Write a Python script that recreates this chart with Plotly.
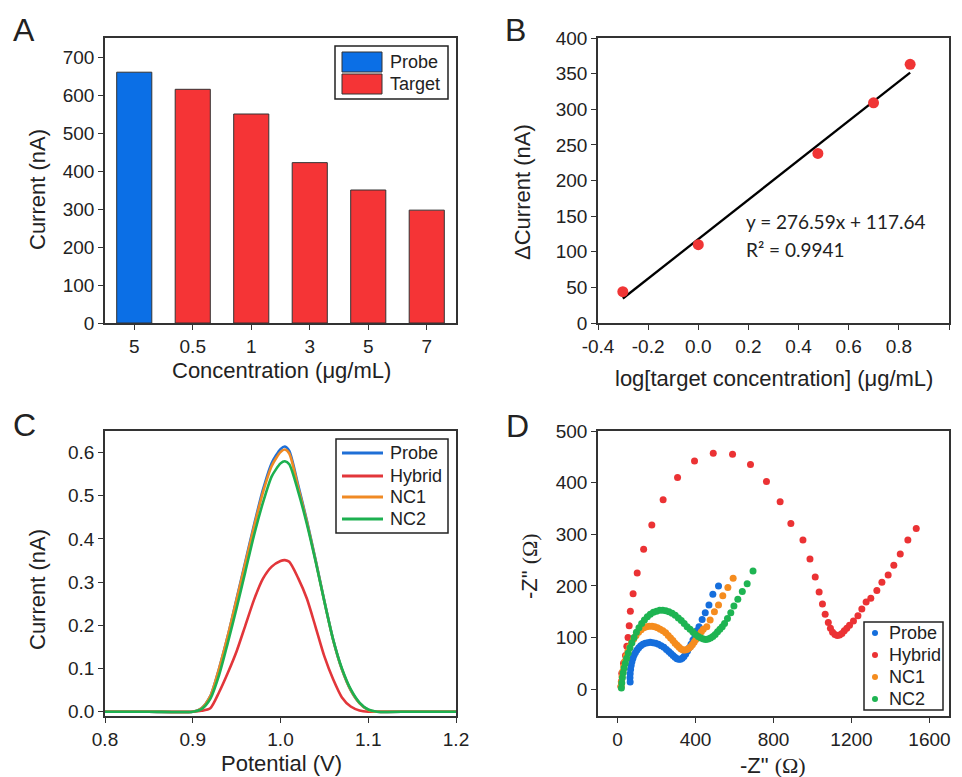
import plotly.graph_objects as go

# ---------------- data ----------------
# Panel A
bar_labels = ["5", "0.5", "1", "3", "5", "7"]
bar_groups = ["Probe", "Target", "Target", "Target", "Target", "Target"]
bar_current = [660, 615, 550, 422, 350, 297]

# Panel B
log_conc = [-0.301, 0.0, 0.477, 0.699, 0.845]
delta_current = [44, 110, 238, 309, 363]
fit_x = [-0.301, 0.845]
fit_y = [34.4, 351.4]
fit_eq = "y = 276.59x + 117.64"
fit_r2 = "R² = 0.9941"

# Panel C
potential = [0.80, 0.85, 0.90, 0.91, 0.92, 0.93, 0.94, 0.95, 0.96, 0.97, 0.98, 0.99,
             1.00, 1.005, 1.01, 1.02, 1.03, 1.04, 1.05, 1.06, 1.07, 1.08, 1.09, 1.10,
             1.11, 1.15, 1.20]
dpv_probe = [0, 0, 0, 0.008, 0.036, 0.10, 0.176, 0.262, 0.348, 0.434, 0.514, 0.576,
             0.608, 0.614, 0.604, 0.526, 0.443, 0.352, 0.256, 0.167, 0.098, 0.05, 0.02, 0.004,
             0, 0, 0]
dpv_hybrid = [0, 0, 0, 0.002, 0.008, 0.045, 0.09, 0.14, 0.2, 0.26, 0.308, 0.336,
              0.349, 0.351, 0.347, 0.31, 0.262, 0.196, 0.128, 0.075, 0.033, 0.012, 0.003, 0,
              0, 0, 0]
dpv_nc1 = [0, 0, 0, 0.008, 0.036, 0.10, 0.176, 0.26, 0.345, 0.43, 0.508, 0.569,
           0.601, 0.607, 0.598, 0.521, 0.44, 0.35, 0.255, 0.166, 0.098, 0.05, 0.02, 0.004,
           0, 0, 0]
dpv_nc2 = [0, 0, 0, 0.006, 0.03, 0.085, 0.16, 0.24, 0.325, 0.41, 0.484, 0.545,
           0.575, 0.58, 0.573, 0.511, 0.435, 0.348, 0.255, 0.167, 0.1, 0.052, 0.021, 0.005,
           0, 0, 0]

# Panel D (Nyquist)
probe_zr = [65, 64, 65, 67, 70, 74, 79, 85, 92, 100, 109, 119, 130, 142, 155, 168, 182, 196, 210, 224,
            238, 251, 263, 274, 285, 295, 305, 314, 323, 332, 341, 350, 359, 368, 377, 387, 397, 407,
            418, 434, 450, 469, 489, 518]
probe_zi = [14, 22, 30, 38, 46, 53, 60, 66, 71, 76, 80, 84, 87, 89, 90, 91, 90, 89, 87, 84,
            81, 77, 73, 69, 65, 62, 59, 58, 58, 60, 63, 68, 74, 80, 87, 95, 104, 113,
            121, 135, 148, 163, 184, 200]
hybrid_zr = [18, 20, 22, 31, 41, 48, 54, 60, 66, 80, 101, 134, 176, 234, 308, 395, 491, 590, 682, 764,
             834, 889, 951, 987, 1014, 1034, 1051, 1065, 1081, 1092, 1103, 1115, 1127, 1139, 1151,
             1163, 1176, 1190, 1210, 1233, 1253, 1275, 1299, 1330, 1356, 1388, 1417, 1450, 1489, 1532]
hybrid_zi = [5, 15, 31, 50, 65, 83, 100, 123, 151, 185, 225, 271, 318, 367, 410, 442, 457, 455, 435, 402,
             363, 321, 289, 252, 217, 188, 165, 145, 129, 118, 110, 106, 104, 105, 108,
             113, 118, 124, 132, 142, 155, 169, 176, 191, 207, 221, 240, 262, 289, 311]
nc1_zr = [18, 20, 23, 27, 32, 38, 45, 53, 62, 72, 83, 95, 108, 121, 135, 149, 163, 177, 191, 205,
          219, 233, 247, 260, 272, 284, 295, 306, 316, 326, 336, 346, 356, 366, 375, 384, 393, 402,
          411, 420, 430, 440, 458, 475, 497, 518, 540, 566, 593]
nc1_zi = [5, 14, 24, 34, 44, 54, 64, 73, 82, 90, 97, 104, 110, 115, 119, 121, 122, 122, 121, 119,
          116, 113, 109, 104, 99, 94, 89, 85, 81, 78, 76, 76, 77, 79, 82, 86, 91, 96,
          101, 106, 111, 116, 121, 134, 150, 163, 181, 197, 215]
nc2_zr = [20, 22, 25, 29, 34, 40, 47, 55, 64, 74, 85, 97, 110, 124, 138, 153, 168, 184, 200, 216,
          232, 248, 264, 280, 296, 312, 327, 342, 357, 372, 386, 400, 414, 428, 441, 453, 465, 477,
          489, 501, 513, 525, 537, 549, 564, 581, 597, 617, 640, 665, 695]
nc2_zi = [2, 12, 22, 32, 41, 50, 60, 70, 80, 90, 100, 110, 119, 127, 134, 140, 145, 149, 151, 153,
          153, 152, 150, 147, 143, 138, 133, 127, 121, 116, 111, 106, 102, 99, 97, 96, 97, 99,
          102, 106, 111, 116, 121, 127, 137, 148, 161, 174, 189, 204, 229]

series_names = ["Probe", "Hybrid", "NC1", "NC2"]

# ---------------- styling ----------------
OFF = 8                      # page body margin (top/left)
W, H = 962 - OFF, 777 - OFF  # figure fills the window up to its right/bottom edge
FONT = "Liberation Sans, Arial, sans-serif"
AX_COL = "#333333"
BAR_COLORS = {"Probe": "#0B6FE6", "Target": "#F53436"}
C_COLORS = {"Probe": "#1F6FD6", "Hybrid": "#E2363A", "NC1": "#F08A24", "NC2": "#1DB050"}
D_COLORS = {"Probe": "#156EDC", "Hybrid": "#EB3234", "NC1": "#F58C1E", "NC2": "#1EB452"}


def px(x):
    return (x - OFF) / W


def py(y):
    return 1 - (y - OFF) / H


def axis(domain, rng, **kw):
    d = dict(domain=domain, range=rng, showline=True, mirror=True, linecolor=AX_COL,
             linewidth=1.5, ticks="outside", ticklen=5, tickwidth=1.2, tickcolor=AX_COL,
             showgrid=False, zeroline=False, automargin=False,
             tickfont=dict(size=19, color="#222", family=FONT))
    d.update(kw)
    return d


fig = go.Figure()

# Panel A
fig.add_trace(go.Bar(
    x=list(range(len(bar_current))), y=bar_current, width=0.6,
    marker=dict(color=[BAR_COLORS[g] for g in bar_groups], line=dict(color="#333", width=1)),
    xaxis="x", yaxis="y", showlegend=False))

# Panel B
fig.add_trace(go.Scatter(x=fit_x, y=fit_y, mode="lines", line=dict(color="black", width=2.3),
                         xaxis="x2", yaxis="y2", showlegend=False))
fig.add_trace(go.Scatter(x=log_conc, y=delta_current, mode="markers",
                         marker=dict(color="#F03535", size=11),
                         xaxis="x2", yaxis="y2", showlegend=False))

# Panel C
for name, vals in zip(series_names, [dpv_probe, dpv_hybrid, dpv_nc1, dpv_nc2]):
    fig.add_trace(go.Scatter(x=potential, y=vals, mode="lines", name=name,
                             line=dict(color=C_COLORS[name], width=2.6, shape="spline", smoothing=0.7),
                             xaxis="x3", yaxis="y3", showlegend=False))

# Panel D
for name, zr, zi in zip(series_names, [probe_zr, hybrid_zr, nc1_zr, nc2_zr],
                        [probe_zi, hybrid_zi, nc1_zi, nc2_zi]):
    fig.add_trace(go.Scatter(x=zr, y=zi, mode="markers", name=name,
                             marker=dict(color=D_COLORS[name], size=7),
                             xaxis="x4", yaxis="y4", showlegend=False))

xA, yA = [px(105), px(456)], [py(323), py(38)]
xB, yB = [px(598), px(949)], [py(323), py(38)]
xC, yC = [px(105), px(456)], [py(716), py(431)]
xD, yD = [px(598), px(949)], [py(716), py(431)]

fig.update_layout(
    width=W, height=H, margin=dict(l=0, r=0, t=0, b=0, autoexpand=False),
    paper_bgcolor="white", plot_bgcolor="white", showlegend=False,
    font=dict(family=FONT, color="#222", size=18),
    xaxis=axis(xA, [-0.5, 5.5], tickvals=list(range(len(bar_labels))), ticktext=bar_labels, anchor="y"),
    yaxis=axis(yA, [0, 750], tickvals=[0, 100, 200, 300, 400, 500, 600, 700], anchor="x"),
    xaxis2=axis(xB, [-0.4, 1.0], tickvals=[-0.4, -0.2, 0.0, 0.2, 0.4, 0.6, 0.8, 1.0],
                ticktext=["-0.4", "-0.2", "0.0", "0.2", "0.4", "0.6", "0.8", "1.0"], anchor="y2"),
    yaxis2=axis(yB, [0, 400], dtick=50, anchor="x2"),
    xaxis3=axis(xC, [0.8, 1.2], tickvals=[0.8, 0.9, 1.0, 1.1, 1.2],
                ticktext=["0.8", "0.9", "1.0", "1.1", "1.2"], anchor="y3"),
    yaxis3=axis(yC, [-0.01, 0.65], tickvals=[0, 0.1, 0.2, 0.3, 0.4, 0.5, 0.6],
                ticktext=["0.0", "0.1", "0.2", "0.3", "0.4", "0.5", "0.6"], anchor="x3"),
    xaxis4=axis(xD, [-100, 1700], tickvals=[0, 400, 800, 1200, 1600], anchor="y4"),
    yaxis4=axis(yD, [-52, 500], tickvals=[0, 100, 200, 300, 400, 500], anchor="x4"),
)

ann = []
shapes = []


def text(t, x, y, size=22, angle=0, xanchor="center", family=FONT):
    ann.append(dict(text=t, x=px(x), y=py(y), xref="paper", yref="paper", showarrow=False,
                    xanchor=xanchor, yanchor="middle", textangle=angle,
                    font=dict(size=size, family=family, color="#222")))


def box(x0, y0, x1, y1, fill="white", lc="#222", lw=1.5):
    shapes.append(dict(type="rect", xref="paper", yref="paper", x0=px(x0), x1=px(x1),
                       y0=py(y1), y1=py(y0), line=dict(color=lc, width=lw), fillcolor=fill))


# panel letters
text("A", 24, 30, size=32)
text("B", 516, 30, size=32)
text("C", 24, 425, size=32)
text("D", 517, 426, size=32)

# axis titles
text("Current (nA)", 38, 190, angle=-90)
text("Concentration (μg/mL)", 281, 370)
text("ΔCurrent (nA)", 523, 192, angle=-90)
text("log[target concentration] (μg/mL)", 774, 378)
text("Current (nA)", 37, 590, angle=-90)
text("Potential (V)", 281, 763)
omega = '<span style="font-family:Liberation Serif, Times New Roman, serif">(Ω)</span>'
text('-Z" ' + omega, 529, 566, angle=-90)
text('-Z" ' + omega, 773, 765)

# fit equation
text(fit_eq, 744, 222, size=19, xanchor="left", family="Lato, Carlito, sans-serif")
text(fit_r2, 744, 249, size=19, xanchor="left", family="Lato, Carlito, sans-serif")

# legend for panel A (bar patches)
box(335, 46, 448, 99)
legA_y = [62, 84]
for name, yy in zip(["Probe", "Target"], legA_y):
    box(342, yy - 10, 382, yy + 10, fill=BAR_COLORS[name], lc="#333", lw=1)
    text(name, 388, yy, size=18, xanchor="left")

# legend for panel C (lines)
box(336, 439, 448, 533)
legC_y = [453, 476, 497, 519]
for name, yy in zip(series_names, legC_y):
    shapes.append(dict(type="line", xref="paper", yref="paper", x0=px(342), x1=px(383),
                       y0=py(yy), y1=py(yy), line=dict(color=C_COLORS[name], width=2.8)))
    text(name, 388, yy, size=18, xanchor="left")

# legend for panel D (dots)
box(864, 622, 943, 710)
legD_y = [633, 655, 677, 699]
for name, yy in zip(series_names, legD_y):
    shapes.append(dict(type="circle", xref="paper", yref="paper", x0=px(872), x1=px(878),
                       y0=py(yy + 3), y1=py(yy - 3), line=dict(width=0),
                       fillcolor=D_COLORS[name]))
    text(name, 887, yy, size=18, xanchor="left")

fig.update_layout(annotations=ann, shapes=shapes)

fig.write_html("out.html")
